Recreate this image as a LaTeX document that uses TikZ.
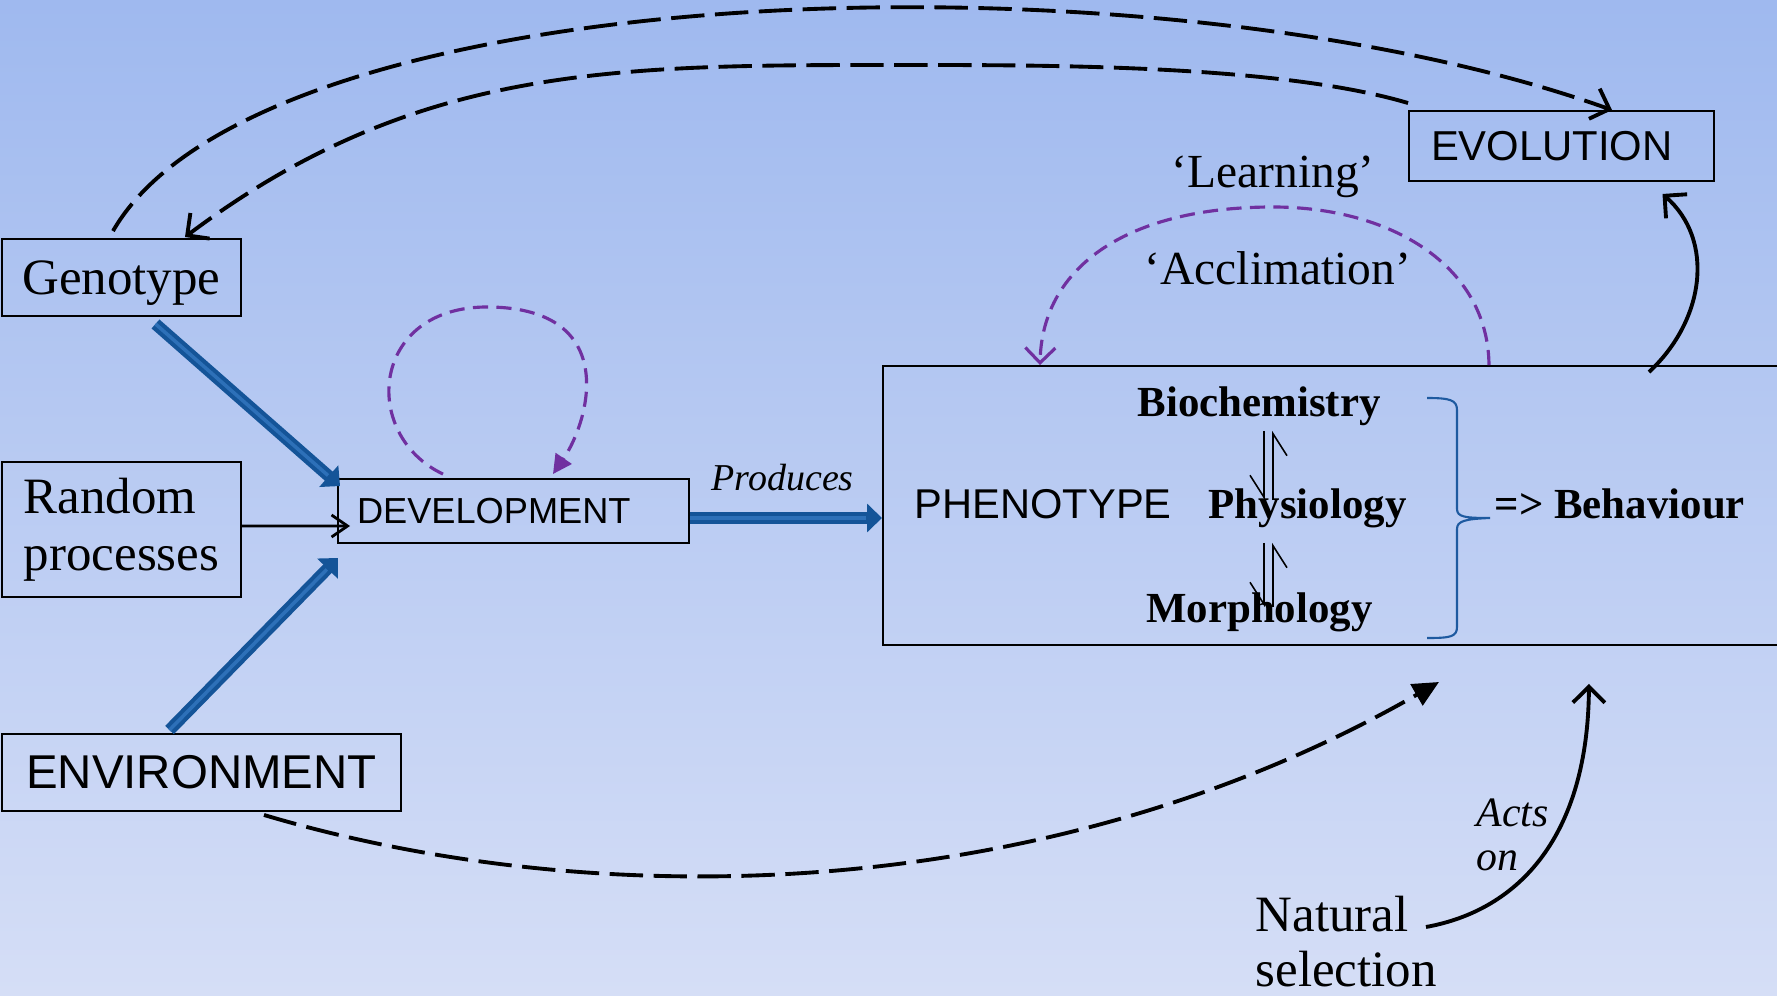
\documentclass[tikz,border=0pt]{standalone}
\usepackage{fontspec}
\setmainfont{Liberation Serif}
\setsansfont{Liberation Sans}
\usetikzlibrary{arrows.meta}
\definecolor{bgtop}{RGB}{159,185,239}
\definecolor{bgbot}{RGB}{213,222,246}
\definecolor{flowblue}{RGB}{20,84,152}
\definecolor{flowlight}{RGB}{45,112,184}
\definecolor{loopviolet}{RGB}{112,48,160}
\definecolor{bracecol}{RGB}{30,90,160}
\begin{document}
\begin{tikzpicture}[box/.style={draw=black, line width=0.55pt, inner sep=0pt}, serif/.style={font=\fontsize{14.5}{16.2}\selectfont}, sans/.style={font=\sffamily\fontsize{#1}{#1}\selectfont}, tag/.style={anchor=base west, inner sep=0pt}, trait/.style={tag, font=\bfseries\fontsize{12.2}{14}\selectfont}, flow/.style={draw=flowblue, line width=3.4pt, -{Triangle[length=1.5mm,width=2.8mm]}, postaction={draw=flowlight, line width=1pt, shorten >=1.6mm, -}}, evodash/.style={line width=1.1pt, dash pattern=on 9.5pt off 3pt}, violetdash/.style={draw=loopviolet, line width=0.9pt, dash pattern=on 4.3pt off 2.4pt}, barb/.style={-{Straight Barb[length=1.6mm,width=3.2mm]}}, harp/.style={line width=0.45pt, -{Straight Barb[right,length=2.2mm,width=2.8mm]}}]
\useasboundingbox (0,0) rectangle (17.77,9.95);
\shade[top color=bgtop, bottom color=bgbot] (0,0) rectangle (17.77,9.95);
\clip (0,0) rectangle (17.77,9.95);
\node[box, serif, text depth=0pt, minimum width=2.39cm, minimum height=0.77cm] (geno) at (1.215,7.175) {Genotype};
\node[box, serif, align=left, minimum width=2.39cm, minimum height=1.35cm] (rand) at (1.215,4.655) {Random\\processes};
\node[box, sans=13.5, minimum width=3.99cm, minimum height=0.77cm] (env) at (2.015,2.225) {ENVIRONMENT};
\node[box, sans=10.3, align=left, text width=3.13cm, inner xsep=0.19cm, minimum height=0.64cm] (dev) at (5.135,4.84) {DEVELOPMENT};
\node[box, sans=11.9, align=left, text width=2.61cm, inner xsep=0.22cm, minimum height=0.70cm] (evo) at (15.615,8.49) {EVOLUTION};
\node[box, minimum width=9.5cm, minimum height=2.79cm, anchor=west] (pheno) at (8.82,4.895) {};
\node[tag, sans=11.85] (phenolab) at (9.14,4.76) {PHENOTYPE};
\node[trait] (bio) at (11.37,5.78) {Biochemistry};
\node[trait] (phys) at (12.08,4.76) {Physiology};
\node[trait] (morph) at (11.455,3.73) {Morphology};
\node[trait] (behav) at (14.94,4.76) {=> Behaviour};
\node[tag, font=\fontsize{13.5}{15}\selectfont] (learn) at (11.71,8.07) {‘Learning’};
\node[tag, font=\fontsize{13.5}{15}\selectfont] (accl) at (11.44,7.10) {‘Acclimation’};
\node[tag, font=\itshape\fontsize{10.8}{12}\selectfont] (prod) at (7.11,5.04) {Produces};
\node[font=\itshape\fontsize{11.9}{12.5}\selectfont, align=left, anchor=south west, inner sep=0pt] (acts) at (14.76,1.23) {Acts\\on};
\node[serif, font=\fontsize{14.5}{15.6}\selectfont, align=left, anchor=south west, inner sep=0pt] (nat) at (12.55,0.07) {Natural\\selection};
\coordinate (envtip) at (14.39,3.13);
\coordinate (natstart) at (14.26,0.68);
\draw[flow] ([shift={(0.34,-0.07)}]geno.south) -- ([shift={(0.03,-0.08)}]dev.north west);
\draw[flow] ([shift={(-0.32,0.03)}]env.north) -- ([shift={(0.01,-0.14)}]dev.south west);
\draw[flow] ([yshift=-0.07cm]dev.east) -- ([yshift=-0.07cm]dev.east -| pheno.west);
\draw[line width=0.8pt, -{Straight Barb[length=1.6mm,width=2.2mm]}] ([yshift=0.035cm]rand.east) -- ([shift={(0.13,-0.15)}]dev.west);
\draw[evodash, barb] ([shift={(-0.085,0.07)}]geno.north) .. controls (2.6,10.2) and (11.5,10.5) .. ([xshift=0.505cm]evo.north);
\draw[evodash, barb] ([yshift=0.07cm]evo.north west) .. controls (12.8,9.3) and (10.5,9.3) .. (9.07,9.3) .. controls (6.17,9.3) and (4.17,9.32) .. ([shift={(0.635,0.01)}]geno.north);
\draw[evodash, -{Triangle[length=2.6mm,width=2.4mm]}] ([shift={(0.625,-0.03)}]env.south) .. controls (6.0,0.8) and (10.5,0.9) .. (envtip);
\draw[violetdash, -{Triangle[length=1.9mm,width=1.9mm]}] ([shift={(-0.705,0.04)}]dev.north) .. controls (3.6,5.6) and (3.7,6.9) .. (4.9,6.88) .. controls (6.2,6.86) and (5.9,5.75) .. ([shift={(0.395,0.04)}]dev.north);
\draw[violetdash, -{Straight Barb[length=1.5mm,width=3mm]}] ([xshift=6.07cm]pheno.north west) .. controls (14.88,7.3) and (13.9,7.88) .. (12.73,7.88) .. controls (11.3,7.88) and (10.42,7.3) .. ([xshift=1.58cm]pheno.north west);
\draw[line width=1.1pt, barb] ([shift={(7.67,-0.07)}]pheno.north west) .. controls (17.05,6.75) and (17.15,7.55) .. ([shift={(1.01,-0.12)}]evo.south);
\draw[line width=1.1pt, barb] (natstart) .. controls (15.2,0.85) and (15.88,1.6) .. ([shift={(2.31,-0.38)}]pheno.south);
\draw[harp] (12.64,5.64) -- (12.64,4.95);
\draw[harp] (12.73,4.95) -- (12.73,5.64);
\draw[harp] (12.64,4.52) -- (12.64,3.88);
\draw[harp] (12.73,3.88) -- (12.73,4.52);
\draw[bracecol, line width=0.6pt] (14.27,5.97) .. controls (14.5,5.97) and (14.57,5.95) .. (14.57,5.85) -- (14.57,4.86) .. controls (14.57,4.78) and (14.65,4.77) .. (14.9,4.77) .. controls (14.65,4.76) and (14.57,4.74) .. (14.57,4.66) -- (14.57,3.68) .. controls (14.57,3.58) and (14.5,3.57) .. (14.27,3.57);
\end{tikzpicture}
\end{document}
